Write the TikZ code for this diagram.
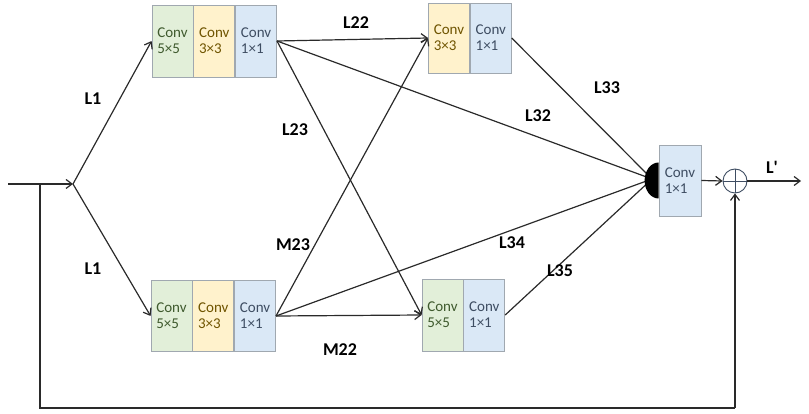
\documentclass[tikz,border=0pt]{standalone}
\usepackage{fontspec}
\setmainfont{Carlito}
\usetikzlibrary{arrows.meta}
\definecolor{cgreen}{HTML}{E2EFD9}
\definecolor{cyellow}{HTML}{FFF2CC}
\definecolor{cblue}{HTML}{DAE8F6}
\definecolor{tgreen}{HTML}{3F5A2E}
\definecolor{tyellow}{HTML}{6F5400}
\definecolor{tblue}{HTML}{3E4D62}
\definecolor{bgray}{HTML}{A0A8B0}
\definecolor{lgray}{HTML}{2A2A2A}
\tikzset{
  cbox/.style={draw=bgray, line width=0.8pt, inner sep=1pt, minimum height=72pt, align=left, font=\fontsize{15}{16}\selectfont},
  gbox/.style={cbox, fill=cgreen, text=tgreen, minimum width=41pt},
  ybox/.style={cbox, fill=cyellow, text=tyellow, minimum width=41pt},
  bbox/.style={cbox, fill=cblue, text=tblue, minimum width=41pt},
  conn/.style={draw=lgray, line width=1.2pt},
  arr/.style={conn, -{Straight Barb[length=6pt,width=9pt,line width=1.2pt]}},
  lab/.style={font=\bfseries\fontsize{18}{20}\selectfont, text=black},
}
\begin{document}
\begin{tikzpicture}[x=1pt,y=-1pt]
\useasboundingbox (0,0) rectangle (809,414);
% top-left block
\node[gbox] (tla) at (172.5,41) {Conv\\5×5};
\node[ybox, anchor=west] (tlb) at (tla.east) {Conv\\3×3};
\node[bbox, anchor=west] (tlc) at (tlb.east) {Conv\\1×1};
% top-right block
\node[ybox, minimum height=70pt] (tra) at (449,38) {Conv\\3×3};
\node[bbox, minimum height=70pt, anchor=west] (trb) at (tra.east) {Conv\\1×1};
% bottom-left block
\node[gbox, minimum height=71pt] (bla) at (171.5,316) {Conv\\5×5};
\node[ybox, minimum height=71pt, anchor=west] (blb) at (bla.east) {Conv\\3×3};
\node[bbox, minimum height=71pt, anchor=west] (blc) at (blb.east) {Conv\\1×1};
% bottom-right block
\node[gbox, minimum height=72pt] (bra) at (442.5,315) {Conv\\5×5};
\node[bbox, minimum height=72pt, anchor=west] (brb) at (bra.east) {Conv\\1×1};
% final conv
\node[bbox, minimum height=71pt, minimum width=42pt] (fc) at (680,180.5) {Conv\\1×1};
\coordinate (cat) at (652,179);
% sum circle
\node[circle, draw=tblue, line width=0.9pt, minimum size=24pt, inner sep=0pt] (sum) at (735,181) {};
\draw[tblue, line width=0.9pt] (sum.north) -- (sum.south) (sum.west) -- (sum.east);
% input and split
\coordinate (in) at (8,184);
\coordinate (sp) at (73,184);
\coordinate (fb) at (40,184);
\coordinate (fbb) at (40,408);
\coordinate (fbr) at (735,408);
\coordinate (out) at (801,181);
\draw[arr] (in) -- (sp);
\draw[arr] (sp) -- (tla.west);
\draw[arr] (sp) -- (bla.west);
% from top-left
\draw[arr] (tlc.east) -- (tra.west);
\draw[conn] (tlc.east) -- (cat);
\draw[arr] (tlc.east) -- (bra.west);
% from bottom-left
\draw[arr] (blc.east) -- (bra.west);
\draw[arr] (blc.east) -- (tra.west);
\draw[conn] (blc.east) -- (cat);
% to concat
\draw[conn] (trb.east) -- (cat);
\draw[conn] (brb.east) -- (cat);
% concat half disc
\fill[black] (fc.west) ++(0,-18) arc[start angle=270, end angle=90, x radius=14, y radius=18] -- cycle;
\draw[arr] (fc.east) -- (sum.west);
\draw[arr] (sum.east) -- (out);
\draw[conn] (fb) -- (fbb) -- (fbr);
\draw[arr] (fbr) -- (sum.south);
% labels
\node[lab] (l1a) at (93,99) {L1};
\node[lab] (l1b) at (93,269) {L1};
\node[lab] (l22) at (356,23) {L22};
\node[lab] (l23) at (295,130) {L23};
\node[lab] (l32) at (538,116) {L32};
\node[lab] (l33) at (607,88) {L33};
\node[lab] (m23) at (293,245) {M23};
\node[lab] (l34) at (512,243) {L34};
\node[lab] (l35) at (560,271) {L35};
\node[lab] (m22) at (340,350) {M22};
\node[lab] (lp) at (772,167) {L\textquotesingle};
\end{tikzpicture}
\end{document}
